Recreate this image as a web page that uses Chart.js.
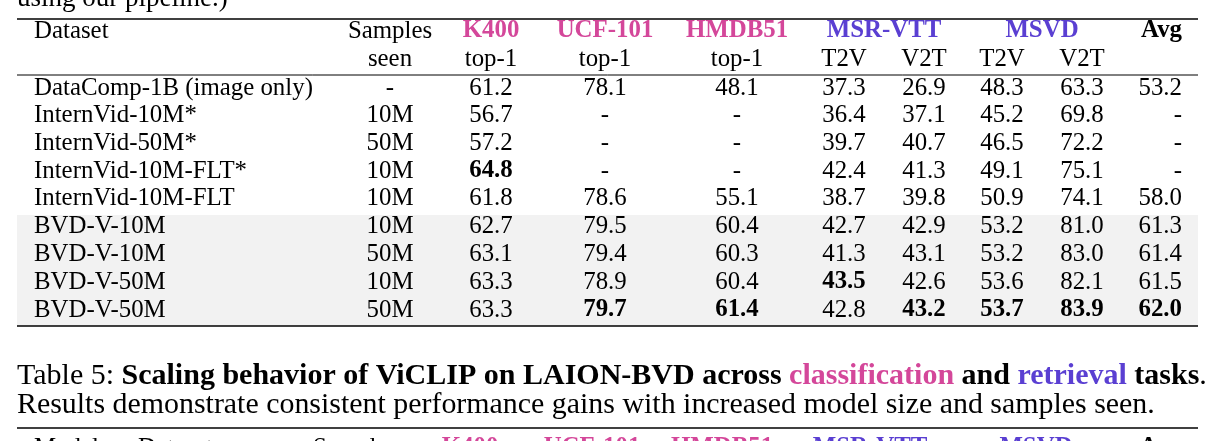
<!DOCTYPE html>
<html><head><meta charset="utf-8">
<script src="https://cdn.jsdelivr.net/npm/chart.js"></script>
<style>html,body{margin:0;padding:0;background:#fff;overflow:hidden}</style>
</head><body>
<canvas id="c" width="1226" height="441"></canvas>
<script>
const datasets = ["DataComp-1B (image only)","InternVid-10M*","InternVid-50M*","InternVid-10M-FLT*","InternVid-10M-FLT","BVD-V-10M","BVD-V-10M","BVD-V-50M","BVD-V-50M"];
const samplesSeen = ["-","10M","50M","10M","10M","10M","50M","10M","50M"];
const k400 = ["61.2","56.7","57.2","64.8","61.8","62.7","63.1","63.3","63.3"];
const ucf101 = ["78.1","-","-","-","78.6","79.5","79.4","78.9","79.7"];
const hmdb51 = ["48.1","-","-","-","55.1","60.4","60.3","60.4","61.4"];
const msrT2V = ["37.3","36.4","39.7","42.4","38.7","42.7","41.3","43.5","42.8"];
const msrV2T = ["26.9","37.1","40.7","41.3","39.8","42.9","43.1","42.6","43.2"];
const msvdT2V = ["48.3","45.2","46.5","49.1","50.9","53.2","53.2","53.6","53.7"];
const msvdV2T = ["63.3","69.8","72.2","75.1","74.1","81.0","83.0","82.1","83.9"];
const avg = ["53.2","-","-","-","58.0","61.3","61.4","61.5","62.0"];
const boldCells = [[3,2],[8,3],[8,4],[7,5],[8,6],[8,7],[8,8],[8,9],[8,10]];
const header1 = ["Dataset","Samples","K400","UCF-101","HMDB51","MSR-VTT","","MSVD","","Avg"];
const header2 = ["","seen","top-1","top-1","top-1","T2V","V2T","T2V","V2T",""];

const PINK="#d4479a", PURPLE="#5a3fd2", SERIF='"Liberation Serif","DejaVu Serif",serif';
const colX=[34,390,491,605,737,844,924,1002,1082,1182];
const rowY=[88,115,143,171,198,226,254,282,310];
const cols=[datasets,samplesSeen,k400,ucf101,hmdb51,msrT2V,msrV2T,msvdT2V,msvdV2T,avg];

const tablePlugin={id:'tbl',afterDraw(ch){
  const c=ch.ctx,X=v=>ch.scales.x.getPixelForValue(v),Y=v=>ch.scales.y.getPixelForValue(v);
  c.save();
  c.fillStyle='#f2f2f2';c.fillRect(X(17),Y(215),X(1198)-X(17),Y(326)-Y(215));
  c.strokeStyle='#000';
  const hl=(y,w)=>{c.lineWidth=w;c.beginPath();c.moveTo(X(17),Y(y));c.lineTo(X(1198),Y(y));c.stroke();};
  hl(19,1.4);hl(75,1);hl(326,1.4);hl(428,1.4);
  c.textBaseline='middle';
  c.font='22px '+SERIF;
  const fs=22*(279/c.measureText(datasets[0]).width);
  const txt=(s,x,y,al,bold,col,size)=>{c.font=(bold?'bold ':'')+(size||fs)+'px '+SERIF;c.fillStyle=col||'#000';c.textAlign=al;c.fillText(s,X(x),Y(y));};
  txt("using our pipeline.)",17,-1,'left',false,'#000',27);
  const hcol=[null,null,PINK,PINK,PINK,PURPLE,null,PURPLE,null,null];
  header1.forEach((h,i)=>{ if(!h)return;
    if(i===0) txt(h,colX[0],31,'left');
    else if(i===5) txt(h,(colX[5]+colX[6])/2,31,'center',true,PURPLE);
    else if(i===7) txt(h,(colX[7]+colX[8])/2,31,'center',true,PURPLE);
    else if(i===9) txt(h,colX[9],31,'right',true);
    else txt(h,colX[i],31,'center',i>1,hcol[i]||'#000');
  });
  header2.forEach((h,i)=>{ if(h) txt(h,colX[i],59,'center'); });
  cols.forEach((arr,ci)=>arr.forEach((v,ri)=>{
    const b=boldCells.some(p=>p[0]===ri&&p[1]===ci);
    txt(v,colX[ci],rowY[ri],ci===0?'left':(ci===9?'right':'center'),b);
  }));
  let x=17;const cap=[["Table 5: ",false,'#000'],["Scaling behavior of ViCLIP on LAION-BVD across ",true,'#000'],["classification",true,PINK],[" and ",true,'#000'],["retrieval",true,PURPLE],[" tasks",true,'#000'],[".",false,'#000']];
  c.textAlign='left';
  let w=0;cap.forEach(p=>{c.font=(p[1]?'bold ':'')+'26px '+SERIF;w+=c.measureText(p[0]).width;});
  const s1=26*(1190/w);
  cap.forEach(p=>{c.font=(p[1]?'bold ':'')+s1+'px '+SERIF;c.fillStyle=p[2];c.fillText(p[0],X(x),Y(376));x+=c.measureText(p[0]).width;});
  const l2="Results demonstrate consistent performance gains with increased model size and samples seen.";
  c.font='26px '+SERIF;const s2=26*(1138/c.measureText(l2).width);
  txt(l2,17,405,'left',false,'#000',s2);
  const nh=[["Model",34,0],["Dataset",138,0],["Samples",355,0],["K400",470,PINK],["UCF-101",592,PINK],["HMDB51",722,PINK],["MSR-VTT",870,PURPLE],["MSVD",1036,PURPLE],["Avg",1160,'#000']];
  nh.forEach(h=>txt(h[0],h[1],448,h[1]<140?'left':'center',!!h[2],h[2]||'#000'));
  c.restore();
}};
new Chart(document.getElementById('c'),{type:'scatter',data:{datasets:[{data:[]}]},
 options:{responsive:false,animation:false,devicePixelRatio:1,layout:{padding:0},
  plugins:{legend:{display:false},tooltip:{enabled:false}},
  scales:{x:{type:'linear',min:0,max:1226,display:false},y:{type:'linear',min:0,max:441,reverse:true,display:false}}},
 plugins:[tablePlugin]});
</script>
</body></html>
